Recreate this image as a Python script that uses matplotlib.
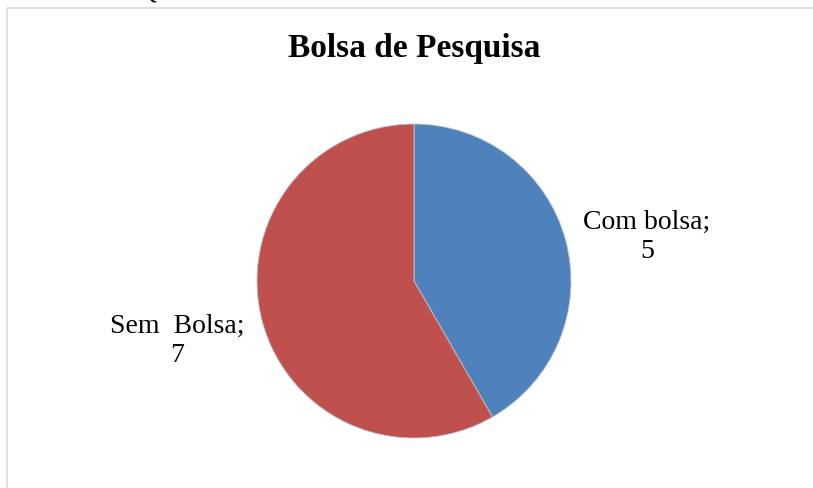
import matplotlib
matplotlib.use("Agg")
import matplotlib.pyplot as plt
from matplotlib.patches import Rectangle

categories = ["Com bolsa", "Sem  Bolsa"]
values = [5, 7]
colors = ["#4F81BD", "#C0504D"]
title = "Bolsa de Pesquisa"

W, H = 813, 488
fig = plt.figure(figsize=(W / 100, H / 100), dpi=100)
fig.patch.set_facecolor("white")

# chart frame
frame = fig.add_axes([0, 0, 1, 1])
frame.set_xlim(0, W)
frame.set_ylim(H, 0)
frame.axis("off")
frame.add_patch(Rectangle((6.5, 7.5), W + 10, H + 10, fill=False,
                          edgecolor="#D9D9D9", linewidth=1.2))
# tail of a heading line above the chart
frame.text(149, -1, "Q", fontsize=17, family="Liberation Serif",
           ha="center", va="baseline", color="black")

frame.text(414, 49, title, fontsize=24, fontweight="bold",
           family="Liberation Serif", ha="center", va="center")

# pie area
cx, cy, r = 414, 281, 157
ax = fig.add_axes([(cx - r) / W, 1 - (cy + r) / H, 2 * r / W, 2 * r / H])
ax.pie(values, colors=colors, startangle=90, counterclock=False,
       wedgeprops=dict(edgecolor="#BFC3CC", linewidth=0.6))
ax.set_aspect("auto")
ax.set_xlim(-1, 1)
ax.set_ylim(-1, 1)
ax.axis("off")

label_pos = [(647, 229), (177, 333)]
for cat, val, (x, y) in zip(categories, values, label_pos):
    frame.text(x, y, f"{cat};", fontsize=20, family="Liberation Serif",
               ha="center", va="baseline")
    frame.text(x, y + 29, f"{val}", fontsize=20, family="Liberation Serif",
               ha="center", va="baseline")

fig.savefig("out.png", dpi=100, facecolor="white")
